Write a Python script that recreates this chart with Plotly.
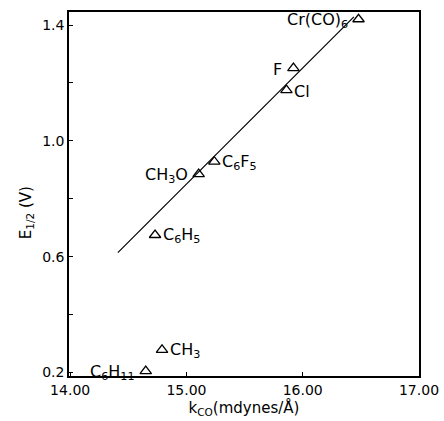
import plotly.graph_objects as go

# data
k_co = [16.48, 15.92, 15.86, 15.24, 15.105, 14.73, 14.79, 14.65]
e_half = [1.420, 1.251, 1.175, 0.928, 0.885, 0.675, 0.278, 0.205]
labels = ["Cr(CO)<sub>6</sub>", "F", "Cl", "C<sub>6</sub>F<sub>5</sub>", "CH<sub>3</sub>O",
          "C<sub>6</sub>H<sub>5</sub>", "CH<sub>3</sub>", "C<sub>6</sub>H<sub>11</sub>"]
label_side = ["left", "left", "right", "right", "left", "right", "right", "left"]

fit_x = [14.41, 16.44]
fit_y = [0.614, 1.428]

x_ticks = [14.0, 15.0, 16.0, 17.0]
x_ticktext = ["14.00", "15.00", "16.00", "17.00"]
y_ticks = [0.2, 0.6, 1.0, 1.4]
y_ticktext = ["0.2", "0.6", "1.0", "1.4"]
y_minor_ticks = [0.4, 0.8, 1.2]

FONT = "DejaVu Sans"

fig = go.Figure()
fig.add_trace(go.Scatter(x=fit_x, y=fit_y, mode="lines",
                         line=dict(color="black", width=1.2), hoverinfo="skip"))
fig.add_trace(go.Scatter(x=k_co, y=e_half, mode="markers",
                         marker=dict(symbol="triangle-up-open", size=10,
                                     color="black", line=dict(width=1.3))))

annots = []
for xv, yv, txt, side in zip(k_co, e_half, labels, label_side):
    annots.append(dict(x=xv, y=yv, xref="x", yref="y", text=txt, showarrow=False,
                       xanchor="right" if side == "left" else "left", yanchor="middle",
                       xshift=-9 if side == "left" else 6, yshift=-1,
                       font=dict(family=FONT, size=16, color="black")))
annots.append(dict(text="E<sub>1/2</sub> (V)", textangle=-90, showarrow=False,
                   xref="paper", yref="paper", x=-0.123, y=0.45,
                   xanchor="center", yanchor="middle",
                   font=dict(family=FONT, size=15, color="black")))

axis_common = dict(showline=True, linecolor="black", linewidth=1.5, mirror=True,
                   ticks="inside", ticklen=4, tickcolor="black", showgrid=False,
                   zeroline=False, automargin=False,
                   tickfont=dict(family=FONT, size=14, color="black"))

fig.update_layout(
    width=444, height=421,
    margin=dict(l=69, r=25, t=12, b=45),
    paper_bgcolor="white", plot_bgcolor="white",
    showlegend=False,
    xaxis=dict(range=[13.99, 17.0], tickvals=x_ticks, ticktext=x_ticktext,
               title=dict(text="k<sub>CO</sub>(mdynes/Å)", standoff=0,
                          font=dict(family=FONT, size=15, color="black")),
               **axis_common),
    yaxis=dict(range=[0.188, 1.445], tickvals=y_ticks, ticktext=y_ticktext,
               minor=dict(tickvals=y_minor_ticks, ticks="inside", ticklen=4,
                          tickcolor="black", showgrid=False),
               **axis_common),
    annotations=annots,
)

fig.write_html("out.html", config={"displayModeBar": False},
               post_script="document.body.style.margin='0';")
